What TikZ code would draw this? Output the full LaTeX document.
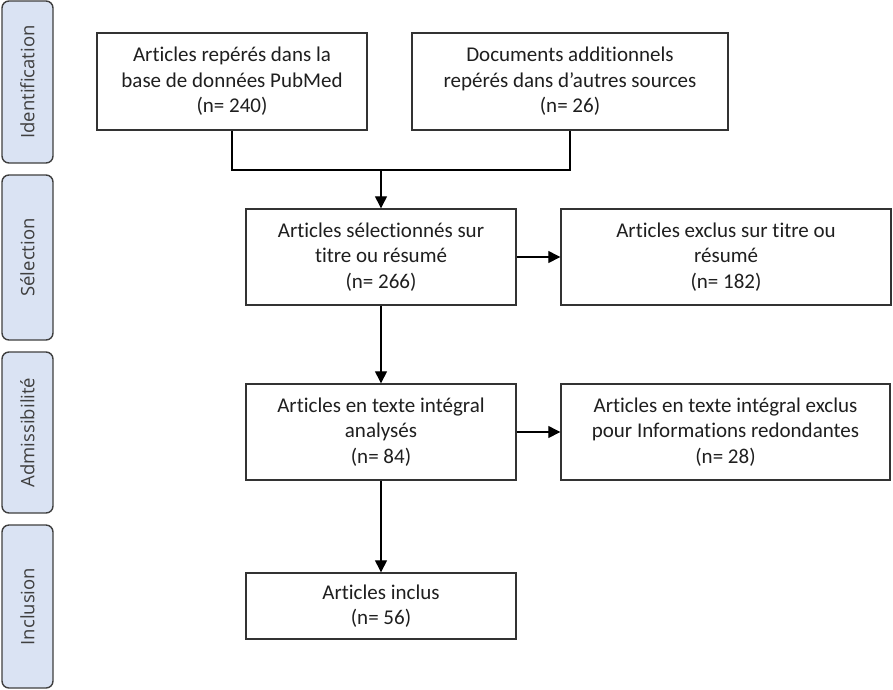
\documentclass[tikz,border=0pt]{standalone}
\usepackage{fontspec}
\setmainfont{Carlito}[Ligatures={NoCommon}]
\newfontfamily\sidefont{Open Sans}[Ligatures={NoCommon}]
\usetikzlibrary{arrows.meta}
\definecolor{sidefill}{HTML}{DAE3F3}
\definecolor{sidedraw}{HTML}{3F3F3F}
\definecolor{boxdraw}{HTML}{333333}
\definecolor{txt}{HTML}{1F1F1F}
\begin{document}
\begin{tikzpicture}[x=1pt,y=-1pt,
  flowbox/.style={draw=boxdraw,line width=1.4pt,fill=white,align=center,inner sep=0pt,
    font=\fontsize{21}{25.6}\selectfont,text=txt},
  sidebox/.style={draw=sidedraw,line width=1.4pt,fill=sidefill,rounded corners=7pt,
    minimum width=51pt,inner sep=0pt},
  sidetext/.style={rotate=90,font=\sidefont\fontsize{18.5}{22}\selectfont,text=sidedraw},
  conn/.style={line width=1.3pt,draw=black},
  arr/.style={conn,-{Triangle[length=12pt,width=12pt]}}]
\useasboundingbox (0,0) rectangle (893,689);
% side phase boxes
\node[sidebox,minimum height=162pt] (s1) at (27.5,82) {};
\node[sidetext] (t1) at (s1.center) {Identification};
\node[sidebox,minimum height=165pt] (s2) at (27.5,257.5) {};
\node[sidetext] (t2) at (s2.center) {Sélection};
\node[sidebox,minimum height=161pt] (s3) at (27.5,432.5) {};
\node[sidetext] (t3) at (s3.center) {Admissibilité};
\node[sidebox,minimum height=163pt] (s4) at (27.5,606.5) {};
\node[sidetext] (t4) at (s4.center) {Inclusion};
% flow boxes
\node[flowbox,minimum width=270pt,minimum height=97pt] (b1) at (232,81.5)
  {Articles repérés dans la\\base de données PubMed\\(n= 240)};
\node[flowbox,minimum width=316pt,minimum height=97pt] (b2) at (570,81.5)
  {Documents additionnels\\repérés dans d’autres sources\\(n= 26)};
\node[flowbox,minimum width=270pt,minimum height=96pt] (b3) at (381,257)
  {Articles sélectionnés sur\\titre ou résumé\\(n= 266)};
\node[flowbox,minimum width=330pt,minimum height=96pt] (b4) at (726,257)
  {Articles exclus sur titre ou\\résumé\\(n= 182)};
\node[flowbox,minimum width=270pt,minimum height=96pt] (b5) at (381,432)
  {Articles en texte intégral\\analysés\\(n= 84)};
\node[flowbox,minimum width=329pt,minimum height=96pt] (b6) at (725.5,432)
  {Articles en texte intégral exclus\\pour Informations redondantes\\(n= 28)};
\node[flowbox,minimum width=270pt,minimum height=66pt] (b7) at (381,606)
  {Articles inclus\\(n= 56)};
% connectors
\coordinate (j) at (381,170);
\draw[conn] (b1.south) |- (j) -| (b2.south);
\draw[arr] (j) -- (b3.north);
\draw[arr] (b3.east) -- (b4.west);
\draw[arr] (b3.south) -- (b5.north);
\draw[arr] (b5.east) -- (b6.west);
\draw[arr] (b5.south) -- (b7.north);
\end{tikzpicture}
\end{document}
